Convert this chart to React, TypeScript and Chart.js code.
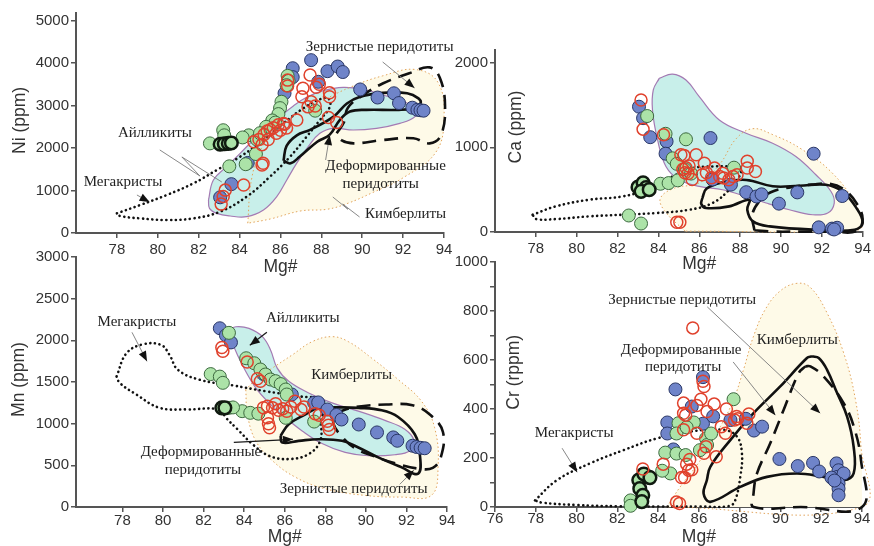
import { useEffect, useRef } from 'react';
import { Chart, registerables } from 'chart.js';
Chart.register(...registerables);

type P = [number, number];

// ---------------- Panel 1: Ni (ppm) vs Mg#
const niBlue: P[] = [[87.5,4070],[86.6,3880],[86.6,3670],[88.3,3810],[88.8,3920],[89.05,3790],[87.85,3560],[86.2,3290],[89.9,3380],[90.75,3190],[91.55,3290],[91.8,3060],[92.45,2950],[92.7,2900],[92.85,2890],[93.0,2880],[83.6,1150],[83.05,840],[84.4,1650]];
const niGreen: P[] = [[86.35,3700],[86.4,3580],[86.3,3480],[86.05,3090],[85.98,2940],[85.9,2800],[87.7,2880],[85.6,2650],[85.75,2600],[84.45,2300],[84.85,2200],[84.8,1860],[84.3,1620],[83.5,1570],[83.2,2420],[83.25,2300],[82.55,2110],[84.15,2250],[85.3,2500],[85.0,2350]];
const niGreenThick: P[] = [[83.05,2090],[83.25,2100],[83.45,2110],[83.6,2120]];
const niRed: P[] = [[87.45,3720],[87.1,3410],[87.05,3210],[87.75,3430],[87.9,3500],[88.4,3300],[88.4,3210],[87.5,3090],[87.7,2990],[87.35,2970],[86.35,3600],[86.35,3460],[86.8,2660],[88.35,2720],[88.75,2600],[86.3,2470],[86.15,2580],[84.7,2150],[84.95,2200],[85.2,2320],[85.35,2400],[85.5,2430],[85.65,2480],[85.8,2350],[86.0,2420],[86.2,2560],[85.1,2080],[85.4,2200],[85.9,2550],[85.15,1640],[85.1,1600],[84.2,1130],[83.3,1010],[83.2,860],[83.1,680]];
const niAyll: P[] = [[82.48,777],[82.72,1248],[83.37,1562],[84.03,1876],[84.68,2190],[85.33,2465],[85.98,2739],[86.63,2991],[87.28,3195],[88.1,3352],[89.07,3430],[90.05,3383],[91.03,3250],[92.01,3093],[92.63,2936],[92.58,2739],[91.84,2582],[90.7,2465],[89.56,2425],[88.59,2465],[87.93,2347],[87.36,2033],[86.79,1640],[86.31,1248],[85.82,856],[85.17,542],[84.35,385],[83.54,400],[82.89,463],[82.53,581]];
const niKimb: P[] = [[84.4,230],[84.6,1300],[85.2,2100],[86.5,2700],[88.0,3100],[89.5,3450],[91.0,3700],[92.6,3850],[93.7,3550],[94.0,2700],[93.6,1900],[92.0,1300],[90.5,950],[89.3,700],[88.3,560],[87.0,520],[85.5,330]];
const niMega: P[] = [[78.0,463],[79.14,659],[80.44,895],[81.75,1170],[82.89,1484],[84.03,1797],[85.17,2190],[86.14,2582],[87.12,2936],[87.93,3148],[88.34,3171],[88.42,2975],[87.93,2661],[87.28,2268],[86.47,1797],[85.49,1327],[84.35,856],[83.05,502],[81.75,345],[80.44,306],[79.14,345],[78.16,400]];
const niDeform: P[] = [[86.15,1700],[86.3,2050],[86.8,2300],[87.45,2430],[88.6,2740],[89.25,3050],[89.9,3210],[91.0,3300],[92.2,3290],[92.75,3170],[92.85,3050],[92.5,2940],[91.8,2900],[90.2,2900],[89.4,2860],[88.9,2660],[88.4,2310],[87.8,2150],[86.95,1800],[86.5,1640]];
const niZern: P[] = [[88.75,2350],[89.1,2600],[89.3,2950],[90.05,3250],[91.0,3520],[92.3,3760],[93.3,3900],[93.8,3650],[94.05,3000],[93.85,2300],[93.3,2110],[92.5,2230],[91.0,2190],[89.6,2110],[89.0,2180]];

// ---------------- Panel 2: Ca (ppm) vs Mg#
const caBlue: P[] = [[83.05,1480],[83.25,1345],[83.6,1120],[84.4,1070],[84.35,925],[86.55,1110],[86.65,620],[87.55,560],[88.3,470],[88.8,420],[89.05,445],[89.9,335],[90.8,468],[91.6,925],[93.0,425],[91.85,55],[92.5,40],[92.75,50],[92.6,30]];
const caGreen: P[] = [[83.45,1370],[85.35,1095],[84.7,870],[84.9,805],[84.1,570],[84.5,578],[84.95,610],[87.7,760],[82.55,195],[83.15,100],[85.3,740],[85.6,690],[84.35,1160]];
const caGreenThick: P[] = [[83.0,530],[83.25,580],[83.4,525],[83.15,480],[83.55,500]];
const caRed: P[] = [[83.15,1560],[83.25,1215],[84.25,1150],[85.1,912],[85.25,905],[85.85,912],[86.25,813],[86.75,755],[88.35,835],[88.35,755],[88.75,715],[85.2,740],[85.35,760],[85.5,780],[85.3,700],[85.45,690],[85.65,620],[86.15,676],[86.35,700],[87.0,656],[87.2,637],[87.45,617],[87.65,656],[87.85,676],[87.15,695],[84.9,115],[85.05,115],[86.6,640]];
const caAyll: P[] = [[84.04,1815],[84.69,1866],[85.35,1796],[86.0,1599],[86.98,1324],[88.29,1167],[89.59,1049],[90.73,892],[91.71,676],[92.45,479],[92.61,342],[92.29,224],[91.55,204],[90.41,263],[89.27,342],[88.29,420],[87.14,499],[86.0,538],[85.02,617],[84.37,774],[83.96,1088],[83.71,1442],[83.75,1678]];
const caKimb: P[] = [[85.3,10],[84.3,250],[84.1,400],[84.8,520],[86.0,580],[87.0,800],[87.8,1100],[88.6,1220],[89.6,1150],[91.0,980],[92.5,700],[93.6,350],[94.0,80],[93.5,10]];
const caMega: P[] = [[77.84,204],[78.98,303],[80.61,381],[82.24,420],[83.39,499],[84.69,656],[85.67,754],[86.65,774],[87.63,774],[88.04,754],[87.96,656],[87.47,499],[86.65,342],[85.51,263],[83.88,224],[82.24,204],[80.61,185],[78.98,153],[78.0,153]];
const caDeform: P[] = [[86.15,400],[86.35,510],[87.1,585],[88.3,615],[89.6,540],[90.9,546],[92.2,558],[93.0,480],[93.65,300],[94.0,110],[93.6,25],[91.9,25],[89.45,66],[88.63,125],[88.35,263],[88.45,381],[87.47,303],[86.33,283],[86.1,330]];
const caZern: P[] = [[88.7,20],[89.6,5],[91.0,5],[92.5,5],[93.7,10],[94.0,150],[93.7,340],[93.1,500],[92.4,570],[91.5,560],[90.5,530],[89.5,470],[88.9,350],[88.6,200]];

// ---------------- Panel 3: Mn (ppm) vs Mg#
const mnBlue: P[] = [[82.8,2145],[83.1,2060],[83.35,1975],[84.95,1595],[86.35,1350],[87.45,1250],[87.65,1255],[88.1,1170],[88.55,1105],[88.8,1050],[89.65,990],[90.55,895],[91.35,835],[91.55,795],[92.3,735],[92.5,720],[92.7,710],[92.9,705]];
const mnGreen: P[] = [[83.25,2090],[84.1,1785],[84.5,1725],[84.8,1650],[85.05,1590],[85.3,1530],[85.55,1510],[85.8,1475],[86.05,1410],[86.1,1350],[82.35,1595],[82.8,1565],[82.95,1490],[83.9,1150],[84.3,1130],[84.7,1120],[86.05,1070],[87.45,1025],[83.25,1190],[83.45,1195]];
const mnGreenThick: P[] = [[82.9,1190],[83.05,1190]];
const mnRed: P[] = [[82.9,1915],[82.95,1870],[84.15,1740],[84.65,1540],[84.8,1510],[84.95,1190],[85.15,1210],[85.4,1190],[85.55,1240],[85.7,1160],[85.9,1180],[86.1,1150],[86.3,1200],[85.15,1070],[85.2,1000],[85.25,950],[86.5,1270],[86.8,1170],[86.95,1200],[87.5,1120],[87.7,1100],[88.1,1030],[88.15,980],[88.2,930]];
const mnAyll: P[] = [[83.26,2123],[83.59,2163],[84.24,2143],[84.9,2044],[85.3,1885],[85.63,1667],[86.2,1508],[87.18,1369],[88.33,1250],[89.63,1151],[90.94,1040],[91.92,933],[92.38,794],[92.17,675],[91.43,627],[90.12,615],[88.98,655],[87.84,762],[86.86,913],[86.04,1071],[85.22,1250],[84.57,1429],[84.08,1627],[83.67,1825],[83.34,2024]];
const mnKimb: P[] = [[84.08,1409],[84.16,1111],[84.57,794],[85.39,556],[86.53,357],[88.0,218],[89.96,139],[91.76,119],[93.23,139],[93.56,476],[93.39,952],[92.74,1270],[91.6,1528],[90.29,1786],[89.14,1984],[88.33,2044],[87.35,1984],[86.37,1825],[85.39,1667],[84.57,1528]];
const mnMega: P[] = [[77.71,1567],[78.2,1845],[79.01,1952],[79.91,1944],[80.32,1825],[80.73,1647],[81.79,1528],[83.42,1460],[85.06,1389],[86.69,1329],[87.92,1270],[87.8,1032],[87.75,794],[87.18,635],[86.2,575],[85.22,615],[84.41,754],[83.67,933],[83.1,1071],[82.77,1171],[81.14,1171],[79.83,1190],[78.69,1349],[77.87,1488]];
const mnDeform: P[] = [[85.79,853],[86.2,992],[87.02,1111],[87.67,1190],[88.65,1195],[89.63,1190],[90.78,1160],[91.59,1080],[92.41,873],[92.66,635],[92.58,400],[91.76,476],[90.61,595],[89.63,714],[88.82,794],[87.67,813],[86.69,794],[85.88,774]];
const mnZern: P[] = [[88.5,1130],[89.5,1200],[91.0,1230],[92.3,1220],[93.2,1100],[93.8,900],[93.7,600],[93.3,470],[92.6,460],[91.5,520],[90.5,600],[89.5,700],[88.8,850],[88.4,1000]];

// ---------------- Panel 4: Cr (ppm) vs Mg#
const crBlue: P[] = [[84.45,345],[84.45,300],[84.85,480],[85.65,410],[86.2,530],[86.2,340],[86.7,370],[87.55,355],[88.3,360],[88.7,312],[89.1,328],[84.75,235],[89.95,196],[90.85,167],[91.6,180],[91.9,145],[92.75,178],[92.85,150],[92.8,123],[92.5,120],[93.1,137],[92.85,96],[92.85,75],[92.85,48],[92.65,108]];
const crGreen: P[] = [[87.7,440],[85.0,342],[84.9,300],[84.35,222],[84.9,218],[85.35,212],[84.6,137],[84.2,148],[85.75,345],[86.35,280],[86.4,253],[86.05,232],[85.4,325],[82.65,27],[82.65,5],[86.6,300]];
const crGreenThick: P[] = [[83.05,110],[83.1,75],[83.25,48],[83.2,22],[83.5,123],[83.3,135],[83.6,120]];
const crRed: P[] = [[85.7,731],[86.2,513],[86.25,492],[86.1,440],[85.9,414],[85.25,424],[85.25,383],[85.35,375],[86.4,390],[87.35,400],[87.85,369],[87.75,355],[88.45,380],[88.35,342],[87.1,328],[87.3,301],[85.25,315],[85.9,301],[86.35,246],[86.25,219],[86.85,205],[84.25,175],[85.55,194],[85.4,175],[85.5,150],[85.65,152],[85.15,120],[85.3,120],[83.25,155],[84.9,20],[85.05,14],[87.9,360],[86.75,420]];
const crKimb: P[] = [[84.43,0],[85.08,82],[86.07,191],[87.05,328],[87.7,438],[88.19,561],[88.68,697],[89.26,807],[89.99,882],[90.81,913],[91.47,896],[92.28,793],[93.1,629],[93.68,438],[93.95,246],[94.0,0]];
const crMega: P[] = [[77.96,27],[79.03,109],[80.66,178],[82.3,232],[83.94,280],[85.57,308],[87.21,315],[87.87,287],[88.11,219],[88.03,123],[87.78,27],[87.5,4],[86,2],[84,2],[82,3],[80,8],[78.3,18]];
const crDeform: P[] = [[91.55,615],[91.88,608],[92.28,561],[92.78,465],[93.27,369],[93.59,246],[93.59,137],[93.1,109],[92.12,123],[90.81,137],[89.34,123],[88.03,82],[86.56,21],[86.23,55],[86.39,109],[86.56,164],[87.54,273],[88.68,383],[89.99,492],[91.3,608]];
const crZern: P[] = [[91.22,574],[91.47,574],[92.12,533],[93.1,424],[93.6,328],[93.95,191],[94.0,0],[91,0],[88.68,0],[88.68,55],[88.85,137],[89.5,260],[90.16,397],[90.9,547]];

// ---------------- Tick labels
const mgTicksFrom78 = [78, 80, 82, 84, 86, 88, 90, 92, 94];
const mgTicksFrom76 = [76, 78, 80, 82, 84, 86, 88, 90, 92, 94];
const niTicks = [0, 1000, 2000, 3000, 4000, 5000];
const caTicks = [0, 1000, 2000];
const mnTicks = [0, 500, 1000, 1500, 2000, 2500, 3000];
const crTicks = [0, 100, 200, 300, 400, 500, 600, 700, 800, 900, 1000];
const crLabelled = [0, 200, 400, 600, 800, 1000];

// ---------------- Field labels (text, Mg#, value)
const niTexts: [string, number, number][] = [['Зернистые перидотиты', 90.85, 4380], ['Айлликиты', 79.86, 2355], ['Мегакристы', 78.3, 1200], ['Деформированные', 91.14, 1578], ['перидотиты', 90.9, 1154], ['Кимберлиты', 92.12, 447]];
const mnTexts: [string, number, number][] = [['Мегакристы', 78.71, 2216], ['Айлликиты', 86.89, 2264], ['Кимберлиты', 89.3, 1580], ['Деформированные', 81.87, 656], ['перидотиты', 81.97, 440], ['Зернистые перидотиты', 89.4, 212]];
const crTexts: [string, number, number][] = [['Зернистые перидотиты', 85.18, 845], ['Кимберлиты', 90.83, 682], ['Деформированные', 85.13, 641], ['перидотиты', 85.23, 571], ['Мегакристы', 79.88, 301]];

interface Leader { pts: P[]; arrow: boolean; dark?: boolean }
const niLeaders: Leader[] = [
  { pts: [[91.0, 4027], [92.56, 3415]], arrow: true },
  { pts: [[80.1, 1955], [82.06, 1342], [81.18, 1790], [83.13, 1201]], arrow: false },
  { pts: [[78.98, 895], [79.6, 730]], arrow: true },
  { pts: [[88.21, 1719], [88.41, 2308]], arrow: true },
  { pts: [[88.56, 848], [89.3, 560], [89.05, 680], [89.87, 377]], arrow: false },
];
const mnLeaders: Leader[] = [
  { pts: [[78.47, 2096], [79.21, 1748]], arrow: true },
  { pts: [[85.12, 2096], [84.28, 1940]], arrow: true, dark: true },
  { pts: [[83.49, 776], [86.4, 812]], arrow: true, dark: true },
  { pts: [[91.67, 272], [92.36, 440]], arrow: true },
];
const crLeaders: Leader[] = [
  { pts: [[86.41, 817], [91.95, 383]], arrow: true },
  { pts: [[87.68, 592], [89.75, 375]], arrow: true },
  { pts: [[79.29, 240], [80.03, 142]], arrow: true },
];

interface Panel {
  area: { left: number; right: number; top: number; bottom: number };
  xMin: number; xMax: number; yMax: number;
  xTicks: number[]; yTicks: number[]; yLabels: number[];
  blue: P[]; green: P[]; greenThick: P[]; red: P[];
  kimb: P[]; ayll: P[] | null; mega: P[]; deform: P[]; zern: P[];
  texts: [string, number, number][]; leaders: Leader[];
  yTitle: string; yTitleDx: number; yTitleVal: number; xTitleDy: number; xPad: number;
}

const panels: Panel[] = [
  { area: { left: 76, right: 444, top: 13, bottom: 233 }, xMin: 76, xMax: 94, yMax: 5180, xTicks: mgTicksFrom78, yTicks: niTicks, yLabels: niTicks,
    blue: niBlue, green: niGreen, greenThick: niGreenThick, red: niRed, kimb: niKimb, ayll: niAyll, mega: niMega, deform: niDeform, zern: niZern,
    texts: niTexts, leaders: niLeaders, yTitle: 'Ni (ppm)', yTitleDx: -56, yTitleVal: 2650, xTitleDy: 34, xPad: 3 },
  { area: { left: 495, right: 863, top: 50, bottom: 232 }, xMin: 76, xMax: 94, yMax: 2150, xTicks: mgTicksFrom78, yTicks: caTicks, yLabels: caTicks,
    blue: caBlue, green: caGreen, greenThick: caGreenThick, red: caRed, kimb: caKimb, ayll: caAyll, mega: caMega, deform: caDeform, zern: caZern,
    texts: [], leaders: [], yTitle: 'Ca (ppm)', yTitleDx: 21, yTitleVal: 1240, xTitleDy: 32, xPad: 3 },
  { area: { left: 76, right: 447, top: 257, bottom: 507 }, xMin: 75.71, xMax: 94, yMax: 3000, xTicks: mgTicksFrom78, yTicks: mnTicks, yLabels: mnTicks,
    blue: mnBlue, green: mnGreen, greenThick: mnGreenThick, red: mnRed, kimb: mnKimb, ayll: mnAyll, mega: mnMega, deform: mnDeform, zern: mnZern,
    texts: mnTexts, leaders: mnLeaders, yTitle: 'Mn (ppm)', yTitleDx: -57, yTitleVal: 1530, xTitleDy: 30, xPad: 0 },
  { area: { left: 495, right: 862, top: 262, bottom: 507 }, xMin: 76, xMax: 94, yMax: 1000, xTicks: mgTicksFrom76, yTicks: crTicks, yLabels: crLabelled,
    blue: crBlue, green: crGreen, greenThick: crGreenThick, red: crRed, kimb: crKimb, ayll: null, mega: crMega, deform: crDeform, zern: crZern,
    texts: crTexts, leaders: crLeaders, yTitle: 'Cr (rppm)', yTitleDx: 19, yTitleVal: 550, xTitleDy: 30, xPad: -2 },
];

const W = 874, H = 546, YW = 50, XH = 30;
const AXIS = '#555';
const SANS = '"Liberation Sans", Arial, sans-serif';
const SERIF = '"Liberation Serif", "Times New Roman", serif';

const toPts = (a: P[]) => a.map(([x, y]) => ({ x, y }));
const closed = (a: P[]) => toPts([...a, a[0]]);

function lineDs(a: P[], o: Record<string, unknown>) {
  return { data: closed(a), showLine: true, pointRadius: 0, pointHoverRadius: 0, tension: 0.4, fill: false, clip: false, ...o };
}
function ptDs(a: P[], bg: string, border: string, bw: number, r: number, order: number) {
  return { data: toPts(a), showLine: false, pointRadius: r, pointHoverRadius: r, pointBackgroundColor: bg, pointBorderColor: border, pointBorderWidth: bw, order, clip: false };
}

function annPlugin(p: Panel) {
  return {
    id: 'ann',
    afterDraw(chart: any) {
      const { ctx, chartArea } = chart;
      const xs = chart.scales.x, ys = chart.scales.y;
      const px = (v: number) => xs.getPixelForValue(v);
      const py = (v: number) => ys.getPixelForValue(v);
      ctx.save();
      for (const l of p.leaders) {
        ctx.beginPath();
        l.pts.forEach(([a, b], i) => (i ? ctx.lineTo(px(a), py(b)) : ctx.moveTo(px(a), py(b))));
        ctx.strokeStyle = l.dark ? '#1a1a1a' : '#7a7a7a';
        ctx.lineWidth = l.dark ? 1.3 : 0.9;
        ctx.stroke();
        if (l.arrow) {
          const n = l.pts.length;
          const x1 = px(l.pts[n - 2][0]), y1 = py(l.pts[n - 2][1]);
          const x2 = px(l.pts[n - 1][0]), y2 = py(l.pts[n - 1][1]);
          const ang = Math.atan2(y2 - y1, x2 - x1);
          const L = 10, Wd = 4;
          ctx.beginPath();
          ctx.moveTo(x2, y2);
          ctx.lineTo(x2 - L * Math.cos(ang) + Wd * Math.sin(ang), y2 - L * Math.sin(ang) - Wd * Math.cos(ang));
          ctx.lineTo(x2 - L * Math.cos(ang) - Wd * Math.sin(ang), y2 - L * Math.sin(ang) + Wd * Math.cos(ang));
          ctx.closePath();
          ctx.fillStyle = '#111';
          ctx.fill();
        }
      }
      ctx.font = `15px ${SERIF}`;
      ctx.fillStyle = '#222';
      ctx.textAlign = 'center';
      ctx.textBaseline = 'middle';
      for (const [t, a, b] of p.texts) ctx.fillText(t, px(a), py(b));
      ctx.font = `17.5px ${SANS}`;
      ctx.fillStyle = '#333';
      ctx.fillText('Mg#', px(86), chartArea.bottom + p.xTitleDy);
      ctx.translate(chartArea.left + p.yTitleDx, py(p.yTitleVal));
      ctx.rotate(-Math.PI / 2);
      ctx.fillText(p.yTitle, 0, 0);
      ctx.restore();
    },
  };
}

function buildConfig(p: Panel): any {
  const datasets: any[] = [];
  datasets.push(lineDs(p.kimb, { fill: 'shape', backgroundColor: '#fefae8', borderWidth: 0, borderColor: 'rgba(0,0,0,0)', order: 15 }));
  if (p.ayll) datasets.push(lineDs(p.ayll, { fill: 'shape', backgroundColor: '#c8efea', borderColor: '#a47ab3', borderWidth: 1.2, order: 14 }));
  datasets.push(lineDs(p.kimb, { borderColor: '#e2a45c', borderWidth: 1, borderDash: [1.5, 2.5], order: 13 }));
  datasets.push(lineDs(p.mega, { borderColor: '#111', borderWidth: 2.6, borderDash: [0.1, 4.6], borderCapStyle: 'round', order: 12 }));
  datasets.push(lineDs(p.deform, { borderColor: '#111', borderWidth: 2.6, order: 11 }));
  datasets.push(lineDs(p.zern, { borderColor: '#111', borderWidth: 2.6, borderDash: [14, 8], order: 10 }));
  datasets.push(ptDs(p.blue, '#6f84c9', '#2a3766', 1, 6.5, 3));
  datasets.push(ptDs(p.green, '#ace3a8', '#3d6a40', 1, 6.5, 2));
  datasets.push(ptDs(p.greenThick, '#ace3a8', '#101a10', 2.5, 6.3, 1));
  datasets.push(ptDs(p.red, 'rgba(255,255,255,0)', '#e0412c', 1.5, 6, 0));

  const grid = { drawOnChartArea: false, drawTicks: true, tickLength: 5, color: AXIS, lineWidth: 1.5 };
  const border = { display: true, color: AXIS, width: 2 };
  const font = { family: SANS, size: 15 };
  return {
    type: 'scatter',
    data: { datasets },
    options: {
      responsive: false,
      animation: false,
      events: [],
      devicePixelRatio: 1,
      layout: { padding: { left: p.area.left - YW, top: p.area.top, right: W - p.area.right, bottom: H - p.area.bottom - XH } },
      plugins: { legend: { display: false }, tooltip: { enabled: false } },
      elements: { line: { capBezierPoints: false } },
      scales: {
        x: {
          type: 'linear', min: p.xMin, max: p.xMax,
          afterFit: (s: any) => { s.height = XH; },
          afterBuildTicks: (s: any) => { s.ticks = p.xTicks.map((v) => ({ value: v })); },
          ticks: { autoSkip: false, maxRotation: 0, includeBounds: false, padding: p.xPad, font, color: '#333', callback: (v: number) => String(v) },
          grid, border,
        },
        y: {
          type: 'linear', min: 0, max: p.yMax,
          afterFit: (s: any) => { s.width = YW; },
          afterBuildTicks: (s: any) => { s.ticks = p.yTicks.map((v) => ({ value: v })); },
          ticks: { autoSkip: false, includeBounds: false, padding: 2, font, color: '#333', callback: (v: number) => (p.yLabels.includes(v) ? String(v) : '') },
          grid, border,
        },
      },
    },
    plugins: [annPlugin(p)],
  };
}

function PanelChart({ p }: { p: Panel }) {
  const ref = useRef<HTMLCanvasElement>(null);
  useEffect(() => {
    const chart = new Chart(ref.current as HTMLCanvasElement, buildConfig(p));
    return () => chart.destroy();
  }, [p]);
  return <canvas ref={ref} width={W} height={H} style={{ position: 'absolute', left: 0, top: 0, width: W, height: H }} />;
}

export default function App() {
  return (
    <div style={{ position: 'fixed', left: 0, top: 0, width: W, height: H, background: '#fff' }}>
      {panels.map((p, i) => <PanelChart key={i} p={p} />)}
    </div>
  );
}
